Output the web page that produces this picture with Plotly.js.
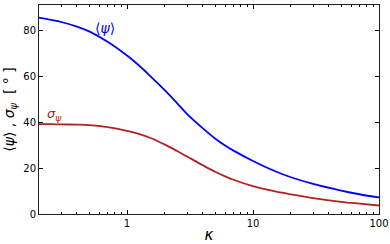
<!DOCTYPE html>
<html>
<head>
<meta charset="utf-8">
<script src="https://cdn.plot.ly/plotly-3.0.1.min.js"></script>
<style>
  html, body { margin: 0; padding: 0; background: #fff; }
  #plot { width: 390px; height: 244px; }
</style>
</head>
<body>
<div id="plot"></div>
<script>
// concentration parameter kappa (log axis)
var kappa = [0.2, 0.25, 0.3, 0.4, 0.5, 0.7, 1, 1.2, 1.5, 2, 2.5, 3, 4, 5, 6, 7, 10, 15, 20, 30, 50, 70, 100];

// mean angle <psi> in degrees
var meanPsi = [85.5, 84.5, 83.6, 81.6, 79.5, 75.0, 69.0, 65.4, 60.5, 53.8, 48.2, 43.5, 37.3, 32.9, 29.8, 27.6, 23.1, 18.6, 16.0, 13.1, 10.2, 8.6, 7.2];

// spread sigma_psi in degrees
var sigmaPsi = [39.1, 39.1, 39.0, 38.9, 38.7, 37.8, 36.2, 35.1, 33.3, 30.2, 27.4, 25.0, 21.2, 18.4, 16.4, 14.9, 12.1, 9.8, 8.5, 6.9, 5.3, 4.5, 3.7];

var xTicks = [1, 10, 100];
var xTickText = ['1', '10', '100'];

var traceMean = {
    x: kappa,
    y: meanPsi,
    mode: 'lines',
    line: {color: '#0000ff', width: 1.8, shape: 'spline', smoothing: 1},
    hoverinfo: 'skip'
};

var traceSigma = {
    x: kappa,
    y: sigmaPsi,
    mode: 'lines',
    line: {color: '#b22222', width: 1.8, shape: 'spline', smoothing: 1},
    hoverinfo: 'skip'
};

var data = [traceMean, traceSigma];

var layout = {
    width: 390,
    height: 244,
    showlegend: false,
    paper_bgcolor: '#fff',
    plot_bgcolor: '#fff',
    font: {family: 'DejaVu Sans', size: 10, color: '#000'},
    margin: {l: 39, r: 11, t: 5, b: 30},
    xaxis: {
        type: 'log',
        range: [Math.log10(0.2), 2],
        tickvals: xTicks,
        ticktext: xTickText,
        ticks: 'inside',
        ticklen: 4,
        tickcolor: '#000',
        mirror: 'ticks',
        showline: true,
        linecolor: '#222',
        linewidth: 1,
        showgrid: false,
        zeroline: false,
        minor: {ticks: 'inside', ticklen: 2, tickcolor: '#000', dtick: 'D1', showgrid: false},
        title: {text: '<i>κ</i>', font: {size: 15}, standoff: 3}
    },
    yaxis: {
        range: [0, 91],
        dtick: 20,
        ticks: 'inside',
        ticklen: 4,
        tickcolor: '#000',
        mirror: 'ticks',
        showline: true,
        linecolor: '#222',
        linewidth: 1,
        showgrid: false,
        zeroline: false,
        title: {text: '⟨<i>ψ</i>⟩ , <i>σ</i><sub><i>ψ</i></sub>  [ ° ]', font: {size: 14}, standoff: 5}
    },
    annotations: [
        {
            x: Math.log10(0.67), y: 81, xref: 'x', yref: 'y',
            text: '⟨<i>ψ</i>⟩', showarrow: false,
            font: {size: 14, color: '#0000ff'}
        },
        {
            x: Math.log10(0.265), y: 43.5, xref: 'x', yref: 'y',
            text: '<i>σ</i><sub><i>ψ</i></sub>', showarrow: false,
            font: {size: 13, color: '#b22222'}
        }
    ]
};

Plotly.newPlot('plot', data, layout, {displayModeBar: false, staticPlot: true});
</script>
</body>
</html>
